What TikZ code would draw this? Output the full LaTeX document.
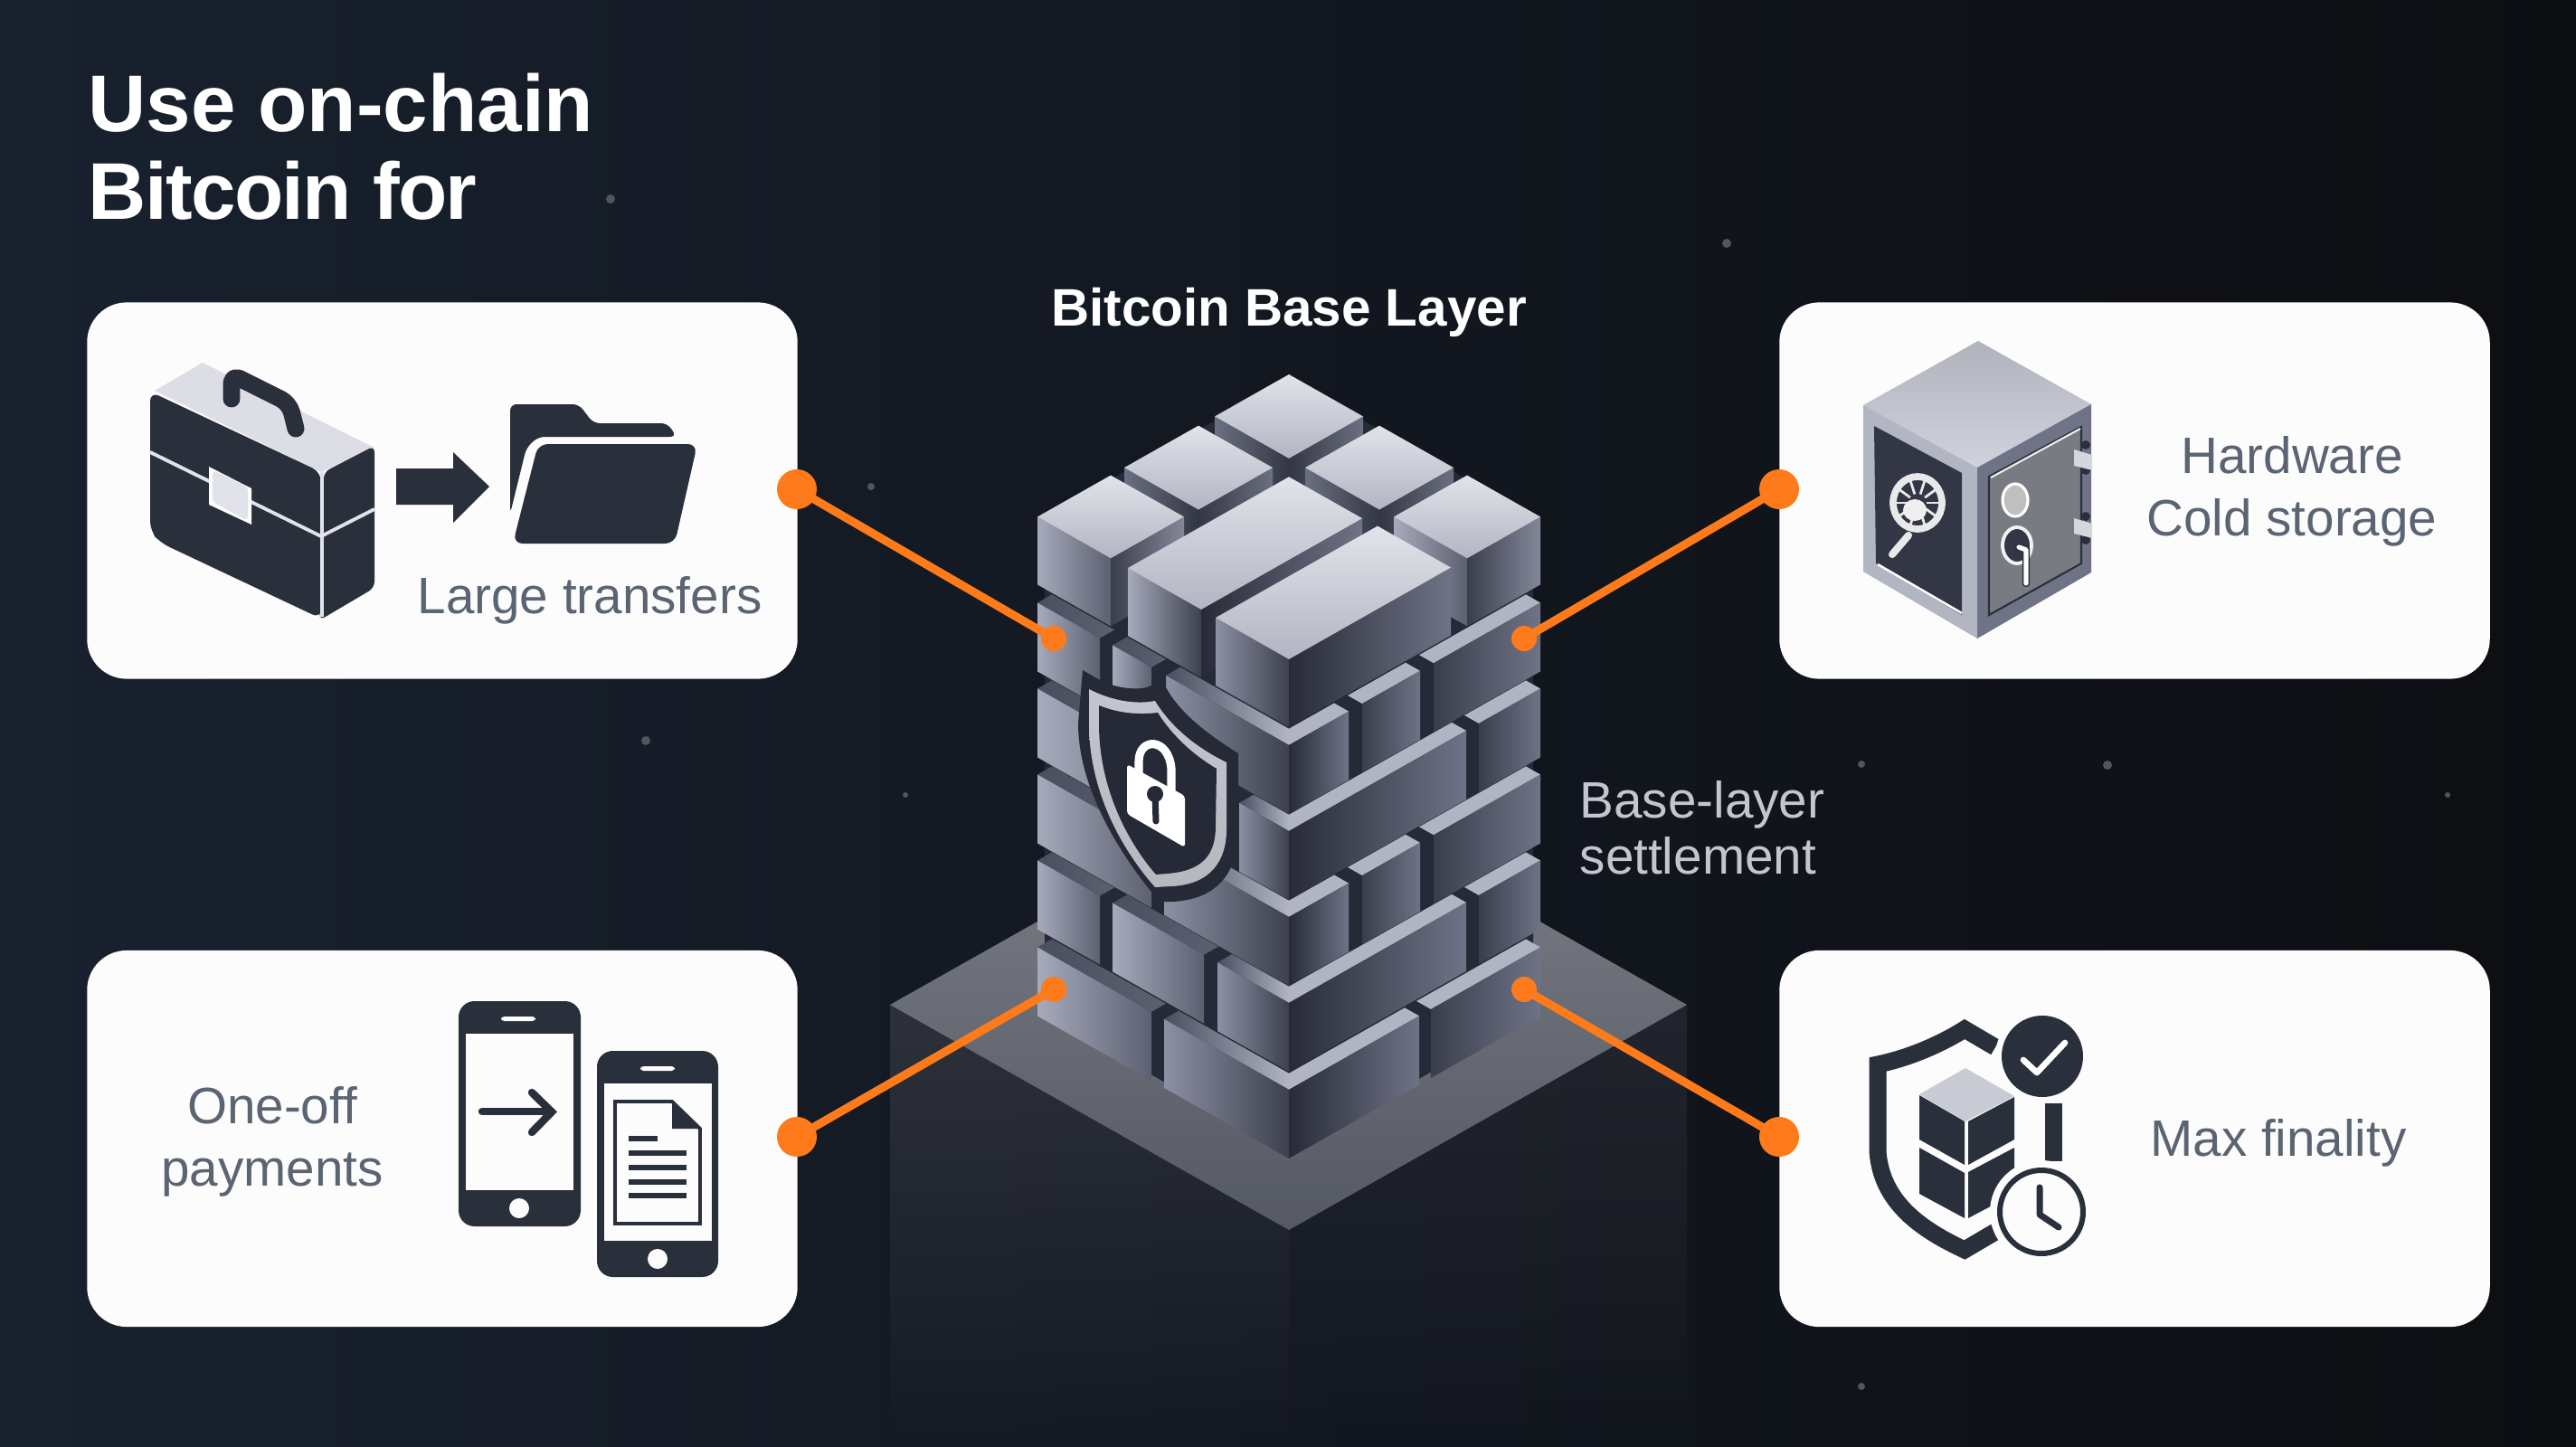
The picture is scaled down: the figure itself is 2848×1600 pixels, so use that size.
\documentclass[tikz,border=0pt]{standalone}
\usepackage{fontspec}
\setmainfont{Liberation Sans}
\usetikzlibrary{fadings}
\definecolor{bgA}{HTML}{18212E}
\definecolor{bgB}{HTML}{13171F}
\definecolor{bgC}{HTML}{0D0E12}
\definecolor{back}{HTML}{262A37}
\definecolor{ink}{HTML}{2A2F3C}
\definecolor{cardc}{HTML}{FCFCFC}
\definecolor{orng}{HTML}{FF7A1A}
\definecolor{labelc}{HTML}{5B6472}
\definecolor{topA}{HTML}{E2E3EA}
\definecolor{topB}{HTML}{B2B5C2}
\definecolor{ledgeL}{HTML}{B0B4C3}
\definecolor{ledgeD}{HTML}{4A4F60}
\definecolor{ledgeM}{HTML}{5C6172}
\definecolor{lfA}{HTML}{A6AABB}
\definecolor{lfB}{HTML}{5C6071}
\definecolor{lfC}{HTML}{8C90A3}
\definecolor{lfD}{HTML}{3D404D}
\definecolor{rfA}{HTML}{282B37}
\definecolor{rfB}{HTML}{6F7386}
\definecolor{rfC}{HTML}{3A3E4C}
\definecolor{rfD}{HTML}{858899}
\definecolor{sbA}{HTML}{6B7080}
\definecolor{sbB}{HTML}{333644}
\definecolor{wallL}{HTML}{2E313A}
\definecolor{wallR}{HTML}{22252D}
\definecolor{platA}{HTML}{7E8187}
\definecolor{platB}{HTML}{555964}
\definecolor{speck}{HTML}{50555E}
\definecolor{silver}{HTML}{C4C6CF}
\definecolor{saftop}{HTML}{B0B3BC}
\definecolor{saftop2}{HTML}{D0D2DD}
\tikzfading[name=wallfade,top color=transparent!0,bottom color=transparent!100]
\tikzset{
  cardbox/.style={rectangle,draw=none,fill=cardc,rounded corners=12.5pt,minimum width=7.85cm,minimum height=4.16cm,inner sep=0pt},
  bigdot/.style={circle,fill=orng,minimum size=0.44cm,inner sep=0pt},
  smalldot/.style={circle,fill=orng,minimum size=0.28cm,inner sep=0pt},
  conn/.style={draw=orng,line width=2.6pt},
  lab/.style={text=labelc,inner sep=0pt,font=\fontsize{16.1}{19.6}\selectfont,align=center},
  thickink/.style={draw=ink,line cap=round,line join=round}
}
\newcommand{\Lbrick}[3]{%
  \shade[left color=ledgeD,right color=ledgeM] (#1,278,#3)--(#2,278,#3)--(#2,262,#3)--(#1,262,#3)--cycle;
  \shade[left color=lfA,right color=lfB] (#1,278,#3)--(#2,278,#3)--(#2,278,#3+76)--(#1,278,#3+76)--cycle;}
\newcommand{\Rbrick}[3]{%
  \fill[ledgeL] (278,#2,#3)--(278,#1,#3)--(262,#1,#3)--(262,#2,#3)--cycle;
  \shade[left color=rfC,right color=rfB] (278,#2,#3)--(278,#1,#3)--(278,#1,#3+76)--(278,#2,#3+76)--cycle;}
\newcommand{\Cbrick}[3]{%
  \shade[left color=ledgeD,right color=ledgeL] (#1,278,#3)--(278,278,#3)--(262,262,#3)--(#1,262,#3)--cycle;
  \fill[ledgeL] (278,278,#3)--(278,#2,#3)--(262,#2,#3)--(262,262,#3)--cycle;
  \shade[left color=lfC,right color=lfD] (#1,278,#3)--(278,278,#3)--(278,278,#3+76)--(#1,278,#3+76)--cycle;
  \shade[left color=rfA,right color=rfB] (278,278,#3)--(278,#2,#3)--(278,#2,#3+76)--(278,278,#3+76)--cycle;}
% top course box: u0 u1 v0 v1, colours of left face and right face
\newcommand{\Ibox}[8]{%
  \shade[left color=#5,right color=#6] (#1,#4,0)--(#2,#4,0)--(#2,#4,75)--(#1,#4,75)--cycle;
  \shade[left color=#7,right color=#8] (#2,#4,0)--(#2,#3,0)--(#2,#3,75)--(#2,#4,75)--cycle;
  \shade[top color=topA,bottom color=topB] (#1,#3,0)--(#2,#3,0)--(#2,#4,0)--(#1,#4,0)--cycle;}
\begin{document}
\begin{tikzpicture}[x=0.01cm,y=-0.01cm]
\useasboundingbox (0,0) rectangle (2848,1600);
\shade[left color=bgA,middle color=bgB,right color=bgC] (0,0) rectangle (2848,1600);
% specks
\foreach \px/\py/\pr in {675/220/5,1909/269/5,963/538/4,714/819/5,1001/879/3,2058/845/4,2330/846/5,2706/879/3,2058/1533/4}
  \fill[speck] (\px,\py) circle[radius=\pr];
% plinth
\fill[wallL,path fading=wallfade] (984,1111)--(1425,1360)--(1425,1600)--(984,1600)--cycle;
\fill[wallR,path fading=wallfade] (1425,1360)--(1865,1111)--(1865,1600)--(1425,1600)--cycle;
\shade[top color=platA,bottom color=platB] (1425,862)--(1865,1111)--(1425,1360)--(984,1111)--cycle;
% column
\begin{scope}[shift={(1425,414)},x={(0.01cm,-0.00566cm)},y={(-0.01cm,-0.00566cm)},z={(0cm,-0.01cm)}]
  \fill[back] (4,4,0)--(274,4,0)--(274,4,550)--(274,274,550)--(4,274,550)--(4,274,0)--cycle;
  % course 5
  \Lbrick{0}{126}{476}\Cbrick{140}{134}{476}\Rbrick{0}{121}{476}
  % course 4
  \Lbrick{0}{69}{380}\Lbrick{83}{184}{380}\Cbrick{199}{82}{380}\Rbrick{0}{68}{380}
  % course 3
  \Lbrick{0}{126}{285}\Cbrick{140}{212}{285}\Rbrick{133}{197}{285}\Rbrick{0}{118}{285}
  % course 2
  \Lbrick{0}{190}{190}\Cbrick{223}{82}{190}\Rbrick{0}{68}{190}
  % course 1
  \Lbrick{0}{69}{95}\Lbrick{83}{126}{95}\Cbrick{142}{212}{95}\Rbrick{133}{197}{95}\Rbrick{0}{118}{95}
  % top course
  \Ibox{0}{82}{0}{82}{sbA}{sbB}{sbB}{sbA}
  \Ibox{0}{82}{100}{182}{sbA}{sbB}{sbB}{sbA}
  \Ibox{100}{182}{0}{82}{sbA}{sbB}{sbB}{sbA}
  \Ibox{0}{81}{197}{278}{lfA}{lfB}{rfC}{rfD}
  \Ibox{197}{278}{0}{81}{lfA}{lfB}{rfC}{rfD}
  \Ibox{100}{181}{100}{278}{lfA}{lfD}{rfA}{rfB}
  \Ibox{197}{278}{99}{278}{lfC}{lfD}{rfA}{rfB}
\end{scope}
% shield on the column
\fill[ink!90!black] (1197,741)--(1216,752) .. controls (1235,762) and (1262,764) .. (1273,758)--(1289,747)--(1289,760) .. controls (1305,790) and (1340,815) .. (1369,833)--(1369,917) .. controls (1369,960) and (1350,995) .. (1295,997)--(1282,997) .. controls (1250,960) and (1192,880) .. (1192,800)--cycle;
\shade[top color=silver,bottom color=silver!80!gray] (1204,762) .. controls (1235,778) and (1262,778) .. (1277,775) .. controls (1295,805) and (1325,828) .. (1356,843)--(1356,917) .. controls (1356,950) and (1340,978) .. (1295,980)--(1277,981) .. controls (1245,945) and (1204,880) .. (1204,800)--cycle;
\fill[ink!90!black] (1215,780) .. controls (1240,790) and (1262,790) .. (1280,788) .. controls (1297,815) and (1320,835) .. (1345,850)--(1344,913) .. controls (1344,945) and (1330,963) .. (1290,966)--(1278,967) .. controls (1250,935) and (1215,875) .. (1215,800)--cycle;
\draw[white,line width=2.6pt] (1259,860)--(1259,842) .. controls (1259,815) and (1292,815) .. (1295,850)--(1295,880);
\fill[white,rounded corners=1pt] (1246,845)--(1310,880)--(1310,937)--(1246,900)--cycle;
\fill[ink!90!black] (1277,878) circle[radius=9];
\draw[ink!90!black,line width=2pt,line cap=round] (1277,880)--(1278,908);
% cards
\node[cardbox] (cardA) at (489,542.5) {};
\node[cardbox] (cardB) at (2360,542.5) {};
\node[cardbox] (cardC) at (489,1259) {};
\node[cardbox] (cardD) at (2360,1259) {};
% connectors
\node[bigdot] (a1) at (881,541) {};
\node[smalldot] (a2) at (1165,706) {};
\node[bigdot] (b1) at (1967,541) {};
\node[smalldot] (b2) at (1685,706) {};
\node[bigdot] (c1) at (881,1257) {};
\node[smalldot] (c2) at (1165,1094) {};
\node[bigdot] (d1) at (1967,1257) {};
\node[smalldot] (d2) at (1685,1094) {};
\draw[conn] (a1.center)--(a2.center);
\draw[conn] (b1.center)--(b2.center);
\draw[conn] (c1.center)--(c2.center);
\draw[conn] (d1.center)--(d2.center);
% briefcase
\fill[topA!95!gray] (224,401)--(171,432)--(355,522)--(414,495)--cycle;
\fill[ink,rounded corners=3pt] (166,433)--(355,522)--(355,684)--(177,600)--(166,587)--cycle;
\fill[ink,rounded corners=2pt] (358,522)--(414,493)--(414,650)--(353,686)--(358,600)--cycle;
\draw[topA,line width=1.1pt] (166,500)--(355,593)--(414,563);
\draw[topA,line width=1.1pt] (356,522)--(356,682);
\draw[ink,line width=5.4pt,line cap=round,line join=round,rounded corners=3pt] (256,441)--(256,414)--(320,446)--(327,474);
\fill[cardc] (231,516)--(278,540)--(278,580)--(231,558)--cycle;
\fill[topA,rounded corners=1.5pt] (235,520)--(274,538)--(274,576)--(235,555)--cycle;
% arrow
\fill[ink] (438,518)--(501,518)--(501,500)--(541,538)--(501,578)--(501,558)--(438,558)--cycle;
% folder
\fill[ink,rounded corners=2pt] (564,568)--(564,447)--(640,447)--(656,468)--(738,468)--(748,483)--(595,483)--(582,495)--cycle;
\fill[ink,rounded corners=3pt] (595,491)--(771,491)--(746,601)--(567,601)--cycle;
% safe
\shade[top color=saftop,bottom color=saftop2] (2187,377)--(2312,447)--(2186,517)--(2060,448)--cycle;
\fill[topB] (2060,448)--(2186,517)--(2186,706)--(2060,632)--cycle;
\fill[rfB] (2186,517)--(2312,447)--(2312,633)--(2186,706)--cycle;
\fill[sbB] (2072,471)--(2169,523)--(2169,680)--(2074,623)--cycle;
\draw[white,line width=0.7pt] (2076,624)--(2169,678);
\draw[ink,fill=gray!60!rfB,line width=0.6pt] (2199,527)--(2301,472)--(2301,623)--(2199,680)--cycle;
\draw[white!85!gray,line width=0.6pt] (2201,528)--(2300,474);
\draw[cardc!85!gray,line width=2.3pt,line cap=round] (2110,592)--(2092,613);
\begin{scope}[shift={(2120,556)}]
  \draw[cardc!85!gray,line width=2.2pt] (0,0) circle[x radius=27,y radius=29];
  \foreach \ang in {0,36,...,324} \draw[cardc!85!gray,line width=0.8pt] (\ang:10) -- (\ang:26);
  \fill[cardc!90!gray] (-3,8) circle[x radius=13,y radius=12];
\end{scope}
\draw[white,fill=gray!50,line width=0.9pt] (2228,553) ellipse[x radius=14,y radius=18];
\draw[white!90!gray,fill=sbB,line width=1.1pt] (2230,603) ellipse[x radius=16,y radius=20];
\draw[ink,line width=2.4pt,line cap=round,line join=round] (2232,605)--(2240,608)--(2240,645);
\draw[white,line width=1.5pt,line cap=round,line join=round] (2232,605)--(2240,608)--(2240,645);
\fill[ink] (2306,492) circle[radius=5];
\fill[ink] (2306,520) circle[radius=5];
\fill[ink] (2306,571) circle[radius=5];
\fill[ink] (2306,597) circle[radius=5];
\fill[silver!70!white] (2293,497)--(2313,503)--(2313,520)--(2293,515)--cycle;
\fill[silver!70!white] (2293,573)--(2313,579)--(2313,595)--(2293,590)--cycle;
% shield + block + check + clock
\draw[thickink,line width=5.4pt,line cap=butt,line join=miter] (2206,1158) -- (2172,1138) .. controls (2145,1155) and (2110,1170) .. (2076,1177) -- (2076,1273) .. controls (2080,1330) and (2125,1360) .. (2172,1382) -- (2206,1362);
\draw[ink,line width=5.4pt] (2270,1220) -- (2270,1284);
\fill[topB!70!white] (2173,1181)--(2227,1212)--(2173,1240)--(2122,1210)--cycle;
\fill[ink] (2122,1211)--(2172,1240)--(2172,1288)--(2122,1260)--cycle;
\fill[ink] (2176,1240)--(2227,1213)--(2227,1260)--(2176,1288)--cycle;
\fill[ink] (2122,1269)--(2172,1297)--(2172,1347)--(2122,1320)--cycle;
\fill[ink] (2176,1296)--(2227,1269)--(2227,1320)--(2176,1347)--cycle;
\fill[cardc] (2258,1168) circle[radius=52];
\fill[ink] (2258,1168) circle[radius=45];
\draw[white,line width=1.9pt,line cap=round,line join=round] (2237,1172)--(2252,1186)--(2283,1153);
\fill[cardc] (2257,1340) circle[radius=57];
\draw[ink,fill=cardc,line width=1.7pt] (2257,1340) circle[radius=46];
\draw[ink,line width=2pt,line cap=round,line join=round] (2255,1313)--(2255,1343)--(2276,1357);
% phones
\fill[ink,rounded corners=5pt] (507,1107) rectangle (642,1356);
\fill[cardc] (515,1143) rectangle (634,1316);
\fill[cardc,rounded corners=1pt] (554,1124) rectangle (592,1129);
\fill[cardc] (574,1336) circle[radius=11];
\draw[ink,line width=2.4pt,line cap=round,line join=round] (533,1229)--(610,1229);
\draw[ink,line width=2.4pt,line cap=round,line join=miter] (588,1208)--(610,1229.5)--(588,1252);
\fill[ink,rounded corners=5pt] (660,1162) rectangle (794,1412);
\fill[cardc] (668,1198) rectangle (787,1372);
\fill[cardc,rounded corners=1pt] (708,1179) rectangle (746,1184);
\fill[cardc] (727,1392) circle[radius=11];
\draw[ink,line width=1.1pt] (680,1218)--(743,1218)--(774,1248)--(774,1353)--(680,1353)--cycle;
\fill[ink] (743,1218)--(774,1248)--(743,1248)--cycle;
\foreach \ly/\lx in {1259/727,1275/759,1291/759,1307/759,1322/759}
  \draw[ink,line width=1.7pt] (695,\ly)--(\lx,\ly);
% texts
\node[anchor=west,inner sep=0pt,text=white,align=left,font=\fontsize{25.3}{27.45}\selectfont\bfseries] (title) at (97,162) {Use on-chain\\\addfontfeature{LetterSpace=-1.9}Bitcoin for};
\node[inner sep=0pt,text=white,font=\fontsize{16.6}{20}\selectfont\bfseries] (head) at (1425,345) {Bitcoin Base Layer};
\node[lab,anchor=base] (tA) at (652,678) {Large transfers};
\node[lab] (tB) at (2534,543) {Hardware\\Cold storage};
\node[lab] (tC) at (301,1262) {One-off\\payments};
\node[lab,anchor=base] (tD) at (2519,1278) {Max finality};
\node[inner sep=0pt,text=silver,align=left,font=\fontsize{16.1}{17.7}\selectfont] (tE) at (1882,915) {Base-layer\\settlement};
\end{tikzpicture}
\end{document}
